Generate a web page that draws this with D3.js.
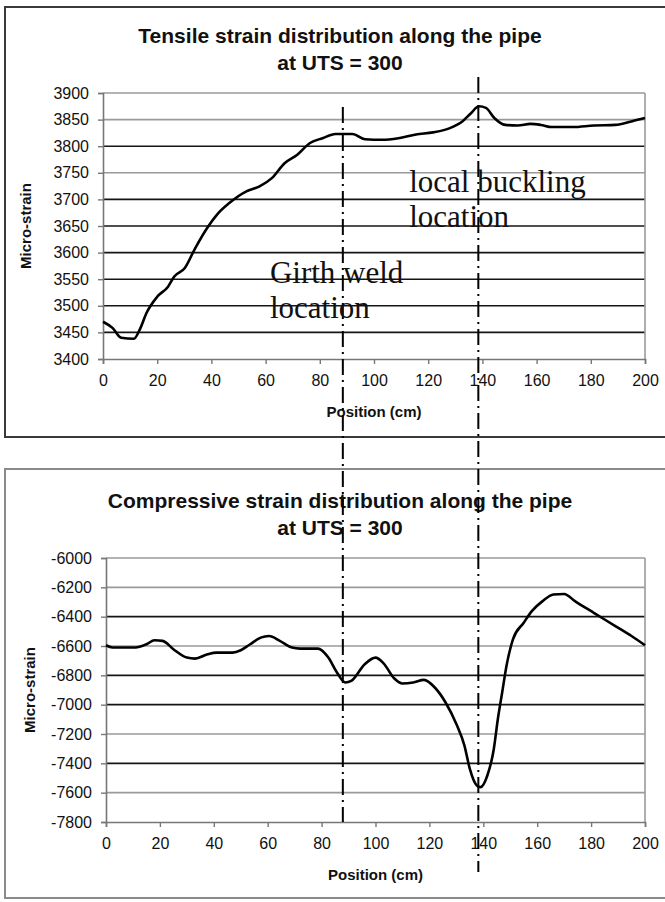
<!DOCTYPE html>
<html>
<head>
<meta charset="utf-8">
<script src="https://d3js.org/d3.v7.min.js"></script>
<style>
  body { margin: 0; background: #fff; }
  svg text { font-family: Arial, "Liberation Sans", sans-serif; fill: #111; }
</style>
</head>
<body>
<svg></svg>
<script>
var WIDTH = 665;
var HEIGHT = 902;

// tensile strain along the pipe (position cm / micro-strain)
var tensilePos = [0, 3.6, 6.7, 11.4, 13.8, 16, 20, 24, 26.3, 30.2, 34, 38.8, 42, 46.6, 52.9, 57.6, 62.3,
  67, 71.7, 76.4, 81, 85.8, 92, 96.7, 103, 109, 115.5, 121.8, 128, 132.7, 135.8, 138.7, 141.3, 144.4,
  148.4, 153, 157.7, 161.6, 165.6, 173.4, 181.2, 189, 195.3, 200];
var tensileStrain = [3470, 3458, 3440, 3438, 3458, 3486, 3517, 3536, 3555, 3571, 3608, 3649, 3671, 3693,
  3715, 3724, 3740, 3768, 3784, 3806, 3815, 3823, 3823, 3813, 3812, 3815, 3822, 3826, 3834, 3847, 3862,
  3875, 3872, 3853, 3840, 3839, 3842, 3840, 3836, 3836, 3839, 3840, 3847, 3853];

// compressive strain along the pipe
var compPos = [0, 2.4, 11, 15, 18, 21, 25, 30, 33, 37.7, 41, 47, 50, 53.5, 57.4, 60.5, 64.5, 69, 72,
  78.6, 82.5, 85.7, 88.8, 91, 96, 100, 103, 107, 110, 114, 118, 122, 126, 130, 133, 135, 137.6, 139,
  141.5, 143.9, 145.4, 147, 148.6, 151, 155, 158, 162, 166, 170, 174, 181, 189, 195, 200];
var compStrain = [-6595, -6610, -6610, -6588, -6561, -6565, -6622, -6679, -6686, -6656, -6645, -6645,
  -6629, -6588, -6543, -6532, -6565, -6611, -6618, -6618, -6679, -6781, -6849, -6838, -6724, -6679,
  -6718, -6822, -6856, -6849, -6831, -6883, -6985, -7132, -7279, -7438, -7551, -7562, -7483, -7302,
  -7098, -6917, -6736, -6555, -6441, -6362, -6294, -6249, -6245, -6294, -6374, -6464, -6532, -6595];

var posTicks = [0, 20, 40, 60, 80, 100, 120, 140, 160, 180, 200];
var tensileTicks = [3400, 3450, 3500, 3550, 3600, 3650, 3700, 3750, 3800, 3850, 3900];
var compTicks = [-7800, -7600, -7400, -7200, -7000, -6800, -6600, -6400, -6200, -6000];

var markerPos = [88.5, 138.5];
var markerText = [['Girth weld', 'location'], ['local buckling', 'location']];

var svg = d3.select('svg')
  .attr('width', WIDTH)
  .attr('height', HEIGHT);

var drawChart = function(cfg) {
  var g = svg.append('g');

  g.append('rect')
    .attr('x', 5).attr('y', cfg.boxTop)
    .attr('width', 680).attr('height', cfg.boxBottom - cfg.boxTop)
    .attr('fill', 'none')
    .attr('stroke', cfg.boxColor)
    .attr('stroke-width', 2);

  var xScale = d3.scaleLinear().domain([0, 200]).range([cfg.left, cfg.right]);
  var yScale = d3.scaleLinear().domain([cfg.ticks[0], cfg.ticks[cfg.ticks.length - 1]])
    .range([cfg.bottom, cfg.top]);

  // horizontal gridlines, some print dark and some light in the original
  g.selectAll('line.grid')
    .data(cfg.ticks.slice(1))
    .enter()
    .append('line')
    .attr('class', 'grid')
    .attr('x1', cfg.left).attr('x2', cfg.right)
    .attr('y1', function(d) { return yScale(d); })
    .attr('y2', function(d) { return yScale(d); })
    .attr('stroke', function(d) { return cfg.dark.indexOf(d) >= 0 ? '#151515' : '#9a9a9a'; })
    .attr('stroke-width', 1.6);

  // right edge of the plot area
  g.append('line')
    .attr('x1', cfg.right).attr('x2', cfg.right)
    .attr('y1', cfg.top).attr('y2', cfg.bottom)
    .attr('stroke', '#9a9a9a').attr('stroke-width', 1.6);

  var leftAxis = d3.axisLeft(yScale)
    .tickValues(cfg.ticks)
    .tickSize(5)
    .tickPadding(9)
    .tickFormat(function(d) { return String(d); });
  var yg = g.append('g')
    .attr('transform', 'translate(' + cfg.left + ',0)')
    .call(leftAxis);

  var botAxis = d3.axisBottom(xScale)
    .tickValues(posTicks)
    .tickSize(5)
    .tickPadding(11);
  var xg = g.append('g')
    .attr('transform', 'translate(0,' + cfg.bottom + ')')
    .call(botAxis);

  [yg, xg].forEach(function(a) {
    a.select('.domain').attr('stroke', '#777').attr('stroke-width', 1.6);
    a.selectAll('.tick line').attr('stroke', '#777').attr('stroke-width', 1.4);
    a.selectAll('.tick text')
      .attr('font-size', 16)
      .attr('font-family', 'Arial, "Liberation Sans", sans-serif')
      .attr('fill', '#333');
  });

  var line = d3.line()
    .x(function(d) { return xScale(d[0]); })
    .y(function(d) { return yScale(d[1]); })
    .curve(d3.curveMonotoneX);

  g.append('path')
    .datum(d3.zip(cfg.xs, cfg.ys))
    .attr('d', line)
    .attr('fill', 'none')
    .attr('stroke', '#000')
    .attr('stroke-width', 2.6)
    .attr('stroke-linejoin', 'round');

  g.selectAll('text.title')
    .data(cfg.title)
    .enter()
    .append('text')
    .attr('class', 'title')
    .attr('x', 340)
    .attr('y', function(d, i) { return cfg.titleY + i * 27; })
    .attr('text-anchor', 'middle')
    .attr('font-size', 21)
    .attr('font-weight', 'bold')
    .text(function(d) { return d; });

  g.append('text')
    .attr('x', (cfg.left + cfg.right) / 2)
    .attr('y', cfg.bottom + 58)
    .attr('text-anchor', 'middle')
    .attr('font-size', 15)
    .attr('font-weight', 'bold')
    .text('Position (cm)');

  g.append('text')
    .attr('transform', 'translate(' + cfg.yLabelX + ',' + (cfg.top + cfg.bottom) / 2 + ') rotate(-90)')
    .attr('text-anchor', 'middle')
    .attr('font-size', 15)
    .attr('font-weight', 'bold')
    .text('Micro-strain');

  return { x: xScale, y: yScale, g: g };
};

var tensileChart = drawChart({
  boxTop: 7, boxBottom: 437, boxColor: '#3a3a3a',
  left: 103, right: 645, top: 93, bottom: 359,
  ticks: tensileTicks, dark: [3450, 3500, 3550, 3600, 3650, 3700, 3800],
  xs: tensilePos, ys: tensileStrain,
  title: ['Tensile strain distribution along the pipe', 'at UTS = 300'], titleY: 43,
  yLabelX: 31
});

var compChart = drawChart({
  boxTop: 469, boxBottom: 898, boxColor: '#8a8a8a',
  left: 106, right: 645, top: 558, bottom: 822,
  ticks: compTicks, dark: [-6400, -6800, -7000, -7400],
  xs: compPos, ys: compStrain,
  title: ['Compressive strain distribution along the pipe', 'at UTS = 300'], titleY: 508,
  yLabelX: 35
});

// dash-dot marker lines crossing both charts
var markerEnds = [[107, 822], [77, 872]];
svg.selectAll('line.marker')
  .data(markerPos)
  .enter()
  .append('line')
  .attr('class', 'marker')
  .attr('x1', function(d) { return tensileChart.x(d); })
  .attr('x2', function(d) { return tensileChart.x(d); })
  .attr('y1', function(d, i) { return markerEnds[i][0]; })
  .attr('y2', function(d, i) { return markerEnds[i][1]; })
  .attr('stroke', '#000')
  .attr('stroke-width', 2)
  .attr('stroke-dasharray', '16,5,2,5');

// annotation text, anchored in the tensile chart's data space
var anchors = [[61.6, 3543], [113, 3714]];
markerText.forEach(function(lines, i) {
  lines.forEach(function(t, j) {
    svg.append('text')
      .attr('x', tensileChart.x(anchors[i][0]))
      .attr('y', tensileChart.y(anchors[i][1]) + j * 35)
      .attr('font-size', 31)
      .attr('fill', '#000')
      .style('font-family', '"Liberation Serif", "Times New Roman", serif')
      .text(t);
  });
});
</script>
</body>
</html>
